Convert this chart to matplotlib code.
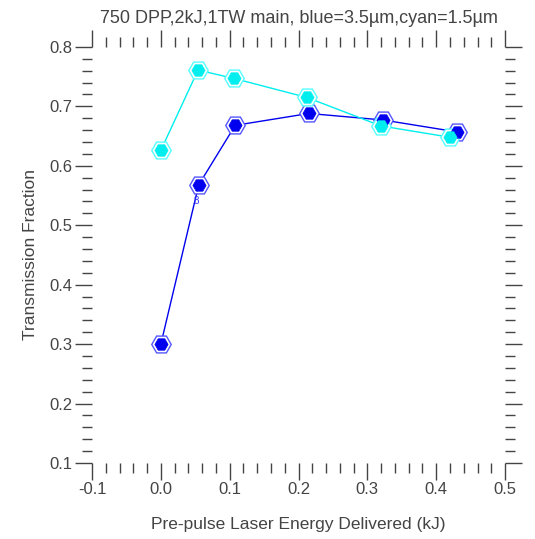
import matplotlib
matplotlib.use('Agg')
from matplotlib import pyplot as plt
from matplotlib.ticker import MultipleLocator

# pre-pulse energy (kJ) and transmission fraction
x_blue = [0.0, 0.055, 0.108, 0.215, 0.323, 0.43]
y_blue = [0.30, 0.568, 0.668, 0.688, 0.677, 0.657]
x_cyan = [0.0, 0.054, 0.106, 0.212, 0.32, 0.42]
y_cyan = [0.626, 0.761, 0.747, 0.715, 0.667, 0.648]

title = '750 DPP,2kJ,1TW main, blue=3.5\u00b5m,cyan=1.5\u00b5m'
xlabel = 'Pre-pulse Laser Energy Delivered (kJ)'
ylabel = 'Transmission Fraction'

plt.rcParams['font.family'] = ['Liberation Sans', 'DejaVu Sans']
txt = '#444444'

fig = plt.figure(figsize=(5.35, 5.39), dpi=100)
ax = fig.add_axes([0.172, 0.141, 0.772, 0.772])


def series(x, y, c, edge):
    ax.plot(x, y, '-', color=c, lw=1.0, zorder=2)
    ax.plot(x, y, 'H', ls='none', ms=14, mfc='white', mec=edge, mew=1.0, zorder=3)
    ax.plot(x, y, 'H', ls='none', ms=9.5, mfc=c, mec=c, mew=0.5, zorder=4)


series(x_blue, y_blue, '#0000ee', '#5555ff')
series(x_cyan, y_cyan, '#00eeee', '#55ffff')
ax.text(x_blue[1] - 0.003, y_blue[1] - 0.027, '8', color='#3333ff', fontsize=7,
        ha='center', va='center', zorder=5)

ax.set_xlim(-0.1, 0.5)
ax.set_ylim(0.1, 0.8)
ax.xaxis.set_major_locator(MultipleLocator(0.1))
ax.xaxis.set_minor_locator(MultipleLocator(0.02))
ax.yaxis.set_major_locator(MultipleLocator(0.1))
ax.yaxis.set_minor_locator(MultipleLocator(0.02))
ax.xaxis.set_major_formatter(matplotlib.ticker.FormatStrFormatter('%.1f'))
ax.yaxis.set_major_formatter(matplotlib.ticker.FormatStrFormatter('%.1f'))

for s in ax.spines.values():
    s.set_visible(False)
ax.tick_params(which='both', direction='out', top=True, right=True,
               color=txt, labelcolor=txt, labelsize=12, width=1.0)
ax.tick_params(which='major', length=12, pad=2)
ax.tick_params(which='minor', length=7)

ax.set_xlabel(xlabel, fontsize=12.5, color=txt, labelpad=14)
ax.set_ylabel(ylabel, fontsize=12.5, color=txt, labelpad=8)
ax.set_title(title, fontsize=13, color=txt, pad=17)

fig.savefig('out.png', dpi=100)
